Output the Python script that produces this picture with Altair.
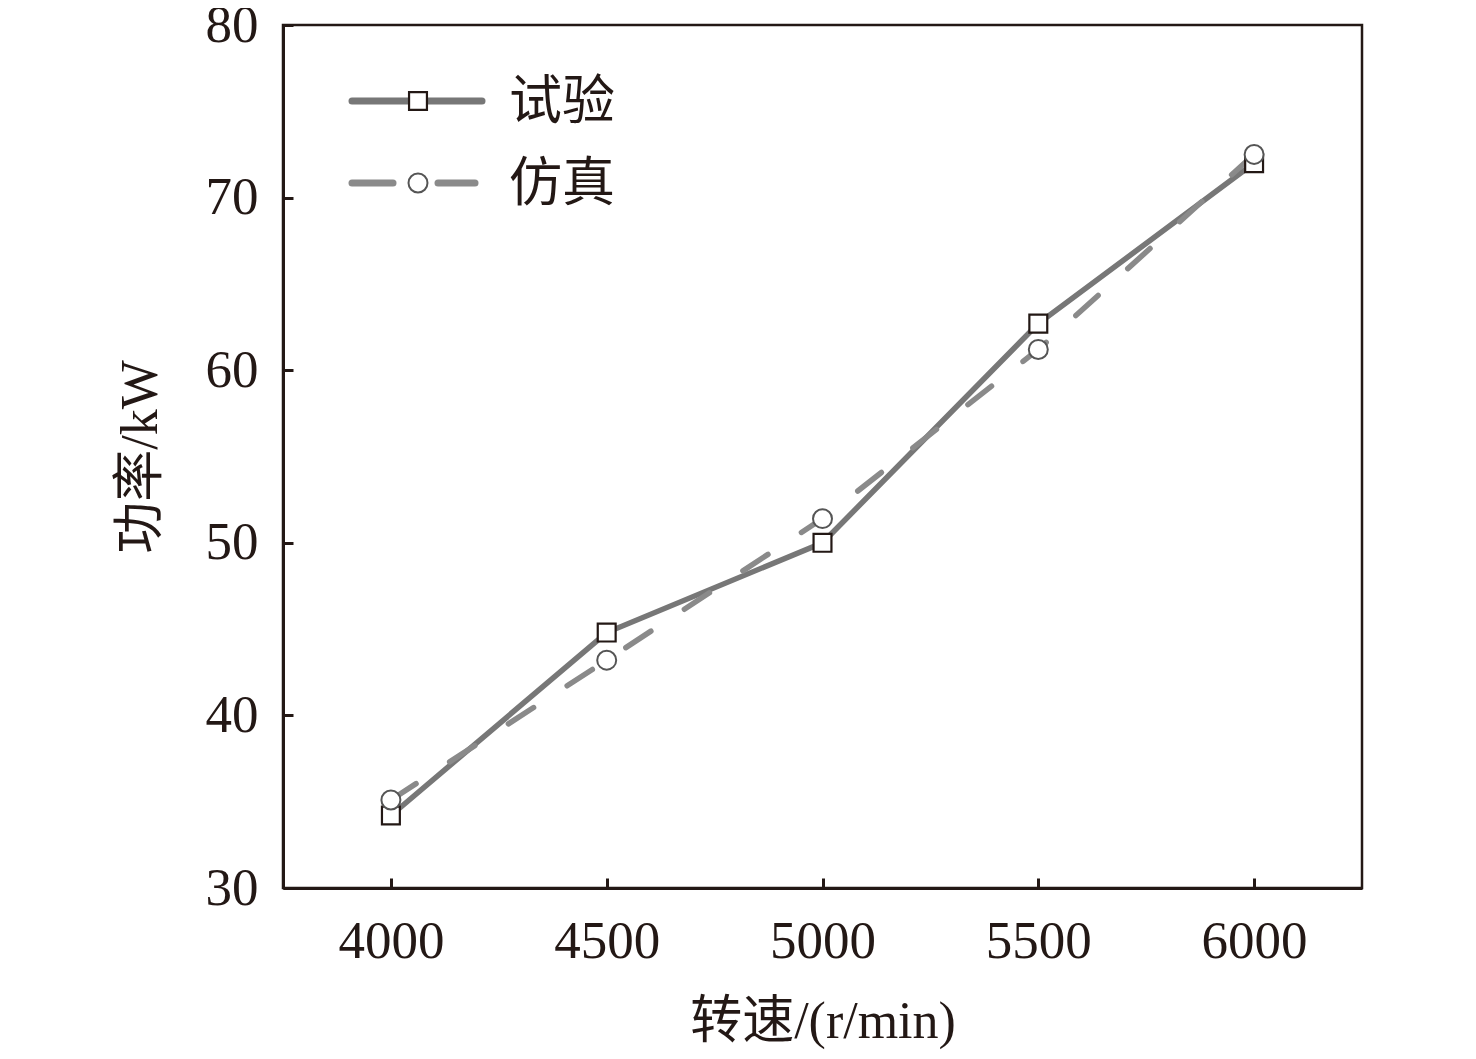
import altair as alt
import pandas as pd

speeds = [4000, 4500, 5000, 5500, 6000]
test_power = [34.2, 44.8, 50.0, 62.7, 72.0]
sim_power = [35.1, 43.2, 51.4, 61.2, 72.5]
series_names = ["试验", "仿真"]

df = pd.DataFrame({
    "speed": speeds * 2,
    "power": test_power + sim_power,
    "series": [series_names[0]] * 5 + [series_names[1]] * 5,
})

FONT = "Liberation Serif, Noto Sans CJK SC"
x = alt.X("speed:Q", scale=alt.Scale(domain=[3750, 6250], nice=False),
          axis=alt.Axis(values=speeds, title="转速/(r/min)", format="d"))
y = alt.Y("power:Q", scale=alt.Scale(domain=[30, 80], nice=False),
          axis=alt.Axis(values=[30, 40, 50, 60, 70, 80], title="功率/kW"))

test = df[df.series == series_names[0]]
sim = df[df.series == series_names[1]]

line_test = alt.Chart(test).mark_line(color="#777777", strokeWidth=5.5).encode(x=x, y=y)
line_sim = alt.Chart(sim).mark_line(color="#8a8a8a", strokeWidth=5.5, strokeCap="round",
                                    strokeDash=[30, 40]).encode(x=x, y=y)
pt_test = alt.Chart(test).mark_point(shape="square", size=320, filled=False, fill="white",
                                     stroke="#231815", strokeWidth=2.2, opacity=1).encode(x=x, y=y)
pt_sim = alt.Chart(sim).mark_point(shape="circle", size=360, filled=False, fill="white",
                                   stroke="#555555", strokeWidth=2, opacity=1).encode(x=x, y=y)

# manual legend
leg = pd.DataFrame({"label": series_names})
leg_line1 = alt.Chart(leg.iloc[[0]]).mark_rule(color="#777777", strokeWidth=7, strokeCap="round").encode(
    x=alt.value(69), x2=alt.value(199), y=alt.value(76))
leg_pt1 = alt.Chart(leg.iloc[[0]]).mark_point(shape="square", size=320, fill="white", stroke="#231815",
                                              strokeWidth=2.2, opacity=1, filled=False).encode(
    x=alt.value(135), y=alt.value(76))
leg_line2a = alt.Chart(leg.iloc[[1]]).mark_rule(color="#8a8a8a", strokeWidth=7, strokeCap="round").encode(
    x=alt.value(69), x2=alt.value(110), y=alt.value(158))
leg_line2b = alt.Chart(leg.iloc[[1]]).mark_rule(color="#8a8a8a", strokeWidth=7, strokeCap="round").encode(
    x=alt.value(155), x2=alt.value(192), y=alt.value(158))
leg_pt2 = alt.Chart(leg.iloc[[1]]).mark_point(shape="circle", size=360, fill="white", stroke="#555555",
                                              strokeWidth=2, opacity=1, filled=False).encode(
    x=alt.value(135), y=alt.value(158))
leg_txt1 = alt.Chart(leg.iloc[[0]]).mark_text(align="left", baseline="middle", font=FONT, fontSize=53,
                                              color="#231815").encode(
    x=alt.value(226), y=alt.value(78), text="label:N")
leg_txt2 = alt.Chart(leg.iloc[[1]]).mark_text(align="left", baseline="middle", font=FONT, fontSize=53,
                                              color="#231815").encode(
    x=alt.value(226), y=alt.value(160), text="label:N")

chart = alt.layer(line_test, line_sim, pt_test, pt_sim,
                  leg_line1, leg_pt1, leg_line2a, leg_line2b, leg_pt2,
                  leg_txt1, leg_txt2).properties(
    width=1079, height=863,
    autosize=alt.AutoSizeParams(type="none"),
    padding={"left": 275, "top": 17, "right": 106, "bottom": 163},
    background="white",
).configure_view(stroke="#231815", strokeWidth=2.5).configure_axis(
    domainColor="#231815", domainWidth=3, tickColor="#231815", tickWidth=3,
    tickSize={"expr": "-10"}, grid=False, labelFont=FONT, titleFont=FONT, labelFontSize=53,
    titleFontSize=52, labelColor="#231815", titleColor="#231815", titleFontWeight="normal",
).configure_axisX(labelPadding=37, titlePadding=28).configure_axisY(labelPadding=35, titlePadding=38)

chart.save("out.html", embed_options={"renderer": "svg", "actions": False})
